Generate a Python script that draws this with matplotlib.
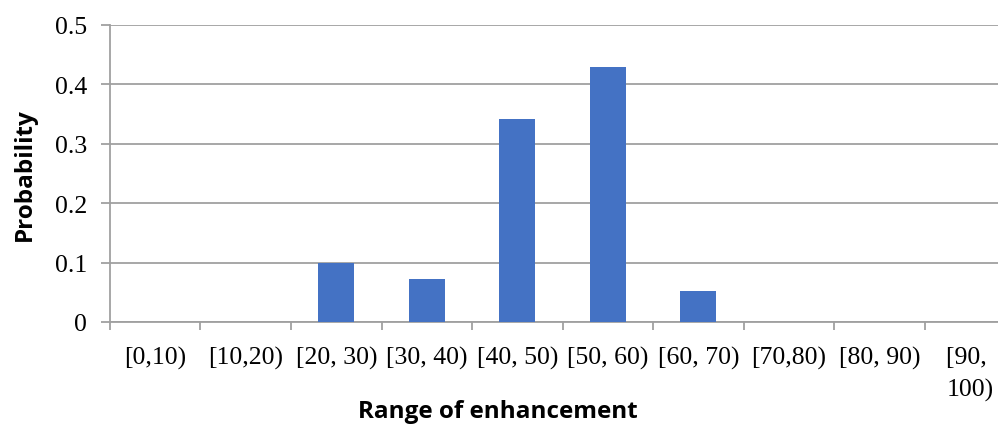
import numpy as np
import matplotlib
matplotlib.use("Agg")
import matplotlib.pyplot as plt

# enhancement ranges and their probabilities
ranges = ["[0,10)", "[10,20)", "[20, 30)", "[30, 40)", "[40, 50)",
          "[50, 60)", "[60, 70)", "[70,80)", "[80, 90)", "[90, \n100)"]
probability = [0, 0, 0.1, 0.072, 0.341, 0.429, 0.052, 0, 0, 0]
yticks = [0, 0.1, 0.2, 0.3, 0.4, 0.5]
ytick_labels = ["0", "0.1", "0.2", "0.3", "0.4", "0.5"]

grey = "#a0a0a0"
fig = plt.figure(figsize=(9.98, 4.27), dpi=100)
# plot area runs a little past the right edge of the figure
ax = fig.add_axes([0.1102, 0.2436, 0.907, 0.6956])

x = np.arange(len(ranges))
ax.bar(x, probability, width=0.4, color="#4472c4", zorder=3)

ax.set_xlim(-0.5, len(ranges) - 0.5)
ax.set_ylim(0, 0.5)
ax.set_yticks(yticks)
ax.set_yticklabels(ytick_labels, family="Liberation Serif", fontsize=18.5)
ax.yaxis.grid(True, color=grey, linewidth=1.3, zorder=0)

ax.set_xticks(x)
ax.set_xticklabels(ranges, family="Liberation Serif", fontsize=18.5,
                   linespacing=1.6)
ax.set_xticks(np.arange(len(ranges) + 1) - 0.5, minor=True)
ax.tick_params(axis="x", which="major", length=0, pad=17)
ax.tick_params(axis="x", which="minor", length=6, width=1.3, color=grey)
ax.tick_params(axis="y", length=6.5, width=1.3, color=grey, pad=10)

for side in ["top", "right"]:
    ax.spines[side].set_visible(False)
for side in ["left", "bottom"]:
    ax.spines[side].set_color(grey)
    ax.spines[side].set_linewidth(1.3)

fig.text(0.025, 0.591, "Probability", rotation=90, ha="center", va="center",
         family="Open Sans", weight="bold", fontsize=17.5)
fig.text(0.499, 0.036, "Range of enhancement", ha="center", va="center",
         family="Open Sans", weight="bold", fontsize=17.5)

fig.savefig("out.png", dpi=100)
